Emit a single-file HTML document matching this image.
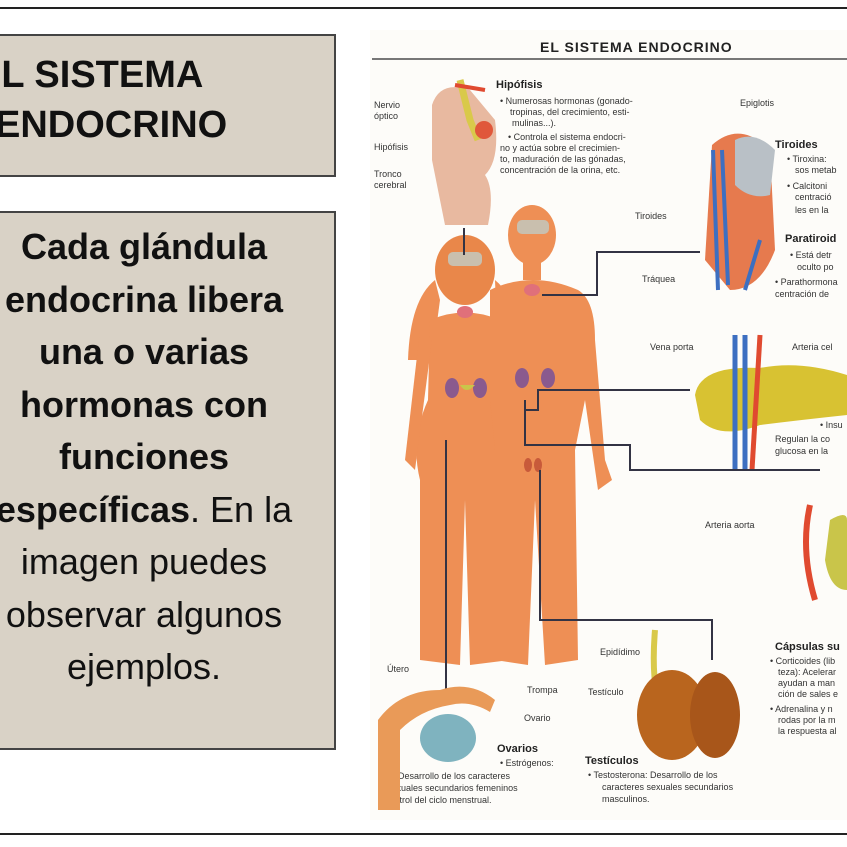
<!DOCTYPE html>
<html><head><meta charset="utf-8">
<style>
html,body{margin:0;padding:0;background:#fff;width:847px;height:847px;overflow:hidden;position:relative;font-family:"Liberation Sans",sans-serif}
.line{position:absolute;left:0;width:847px;height:2px;background:#222}
.box{position:absolute;left:-4px;width:340px;background:#d9d2c6;border:2px solid #444;border-left:none;box-sizing:border-box;overflow:hidden}
.t{position:absolute;white-space:nowrap;font-family:"Liberation Sans",sans-serif;color:#111}
svg text{font-family:"Liberation Sans",sans-serif;fill:#333}
</style></head><body>
<div class="line" style="top:7px"></div>
<div class="line" style="top:833px"></div>
<div class="box" style="top:34px;height:143px">
 <div class="t" style="left:-20px;top:14px;font-size:38px;line-height:50px;font-weight:bold">EL SISTEMA</div>
 <div class="t" style="left:-1px;top:64px;font-size:38px;line-height:50px;font-weight:bold">ENDOCRINO</div>
</div>
<div class="box" style="top:211px;height:539px">
 <div class="t" style="left:-12px;top:8px;width:320px;text-align:center;font-size:36px;line-height:52.5px">
 <b>Cada glándula</b><br><b>endocrina libera</b><br><b>una o varias</b><br><b>hormonas con</b><br><b>funciones</b><br><b>específicas</b>. En la<br>imagen puedes<br>observar algunos<br>ejemplos.</div>
</div>
<svg style="position:absolute;left:0;top:0" width="847" height="847">
 <rect x="370" y="30" width="477" height="790" fill="#fdfcf9"/>
 <text x="540" y="52" font-size="14" font-weight="bold" style="fill:#222;letter-spacing:1px">EL SISTEMA ENDOCRINO</text>
 <line x1="372" y1="59" x2="847" y2="59" stroke="#777" stroke-width="2"/>
 <path d="M432 105 Q440 80 470 90 L495 120 Q500 160 485 175 Q495 190 488 225 L445 225 Q438 190 432 160 Z" fill="#e8b9a0"/>
 <path d="M460 80 L470 120 L478 140" stroke="#d9c94a" stroke-width="7" fill="none"/>
 <circle cx="484" cy="130" r="9" fill="#e0573a"/>
 <path d="M455 85 L485 90" stroke="#e04a30" stroke-width="4"/>
 <g font-size="9">
 <text x="374" y="108">Nervio</text><text x="374" y="119">óptico</text>
 <text x="374" y="150">Hipófisis</text>
 <text x="374" y="177">Tronco</text><text x="374" y="188">cerebral</text>
 <text x="496" y="88" font-weight="bold" font-size="11" style="fill:#222">Hipófisis</text>
 <text x="500" y="104">• Numerosas hormonas (gonado-</text>
 <text x="510" y="115">tropinas, del crecimiento, esti-</text>
 <text x="512" y="126">mulinas...).</text>
 <text x="508" y="140">• Controla el sistema endocri-</text>
 <text x="500" y="151">no y actúa sobre el crecimien-</text>
 <text x="500" y="162">to, maduración de las gónadas,</text>
 <text x="500" y="173">concentración de la orina, etc.</text>
 <text x="740" y="106">Epiglotis</text>
 <text x="775" y="148" font-weight="bold" font-size="11" style="fill:#222">Tiroides</text>
 <text x="787" y="162">• Tiroxina:</text><text x="795" y="173">sos metab</text>
 <text x="787" y="189">• Calcitoni</text><text x="795" y="200">centració</text><text x="795" y="213">les en la</text>
 <text x="635" y="219">Tiroides</text>
 <text x="785" y="242" font-weight="bold" font-size="11" style="fill:#222">Paratiroid</text>
 <text x="790" y="258">• Está detr</text><text x="797" y="270">oculto po</text>
 <text x="775" y="285">• Parathormona</text><text x="775" y="297">centración de</text>
 <text x="642" y="282">Tráquea</text>
 <text x="650" y="350">Vena porta</text>
 <text x="792" y="350">Arteria cel</text>
 <text x="820" y="428">• Insu</text>
 <text x="775" y="442">Regulan la co</text><text x="775" y="454">glucosa en la</text>
 <text x="705" y="528">Arteria aorta</text>
 <text x="775" y="650" font-weight="bold" font-size="11" style="fill:#222">Cápsulas su</text>
 <text x="770" y="664">• Corticoides (lib</text><text x="778" y="675">teza): Acelerar</text>
 <text x="778" y="686">ayudan a man</text><text x="778" y="697">ción de sales e</text>
 <text x="770" y="712">• Adrenalina y n</text><text x="778" y="723">rodas por la m</text><text x="778" y="734">la respuesta al</text>
 <text x="600" y="655">Epidídimo</text>
 <text x="588" y="695">Testículo</text>
 <text x="387" y="672">Útero</text>
 <text x="527" y="693">Trompa</text>
 <text x="524" y="721">Ovario</text>
 <text x="497" y="752" font-weight="bold" font-size="11" style="fill:#222">Ovarios</text>
 <text x="500" y="766">• Estrógenos:</text>
 <text x="398" y="779">Desarrollo de los caracteres</text>
 <text x="387" y="791">sexuales secundarios femeninos</text>
 <text x="378" y="803">y control del ciclo menstrual.</text>
 <text x="585" y="764" font-weight="bold" font-size="11" style="fill:#222">Testículos</text>
 <text x="588" y="778">• Testosterona: Desarrollo de los</text>
 <text x="602" y="790">caracteres sexuales secundarios</text>
 <text x="602" y="802">masculinos.</text>
 </g>
 <path d="M712 145 Q740 120 770 150 L775 250 Q760 290 730 290 L705 260 Z" fill="#e67a4e"/>
 <path d="M735 140 Q755 130 775 150 L770 195 Q750 200 735 185 Z" fill="#b9c0c6"/>
 <path d="M713 150 L718 290 M722 150 L728 285 M760 240 L745 290" stroke="#3d6fc1" stroke-width="4" fill="none"/>
 <path d="M695 395 Q700 365 760 368 Q800 360 847 375 L847 415 Q800 420 760 425 Q720 440 700 420 Z" fill="#d8c232"/>
 <path d="M735 335 L735 470 M745 335 L745 470" stroke="#3d6fc1" stroke-width="5"/>
 <path d="M760 335 L752 470" stroke="#e04a30" stroke-width="5"/>
 <path d="M810 505 Q800 550 815 600" stroke="#e04a30" stroke-width="6" fill="none"/>
 <path d="M830 520 Q847 510 847 520 L847 590 Q830 590 825 560 Z" fill="#c9c54a"/>
 <g fill="#ee8f55">
 <ellipse cx="465" cy="270" rx="30" ry="35" fill="#e9874a"/>
 <path d="M435 280 Q410 300 408 360 L432 360 L440 300 Z"/>
 <path d="M495 280 Q520 300 520 360 L498 360 Z"/>
 <path d="M430 320 Q465 305 500 320 L505 400 Q520 440 510 480 L510 660 L470 665 L465 500 L460 665 L420 660 L420 480 Q410 440 428 400 Z"/>
 <path d="M420 330 L405 460 L415 470 L432 340 Z"/>
 <path d="M505 330 L520 460 L510 470 L500 340 Z"/>
 <ellipse cx="532" cy="235" rx="24" ry="30"/>
 <rect x="523" y="260" width="18" height="20"/>
 <path d="M490 290 Q532 270 578 290 Q595 300 595 340 L605 460 L612 480 L598 490 L585 400 L575 450 L578 660 L545 665 L535 500 L528 665 L495 660 L495 450 L490 400 Z"/>
 </g>
 <g fill="#c9bfae"><rect x="448" y="252" width="34" height="14" rx="5"/><rect x="517" y="220" width="32" height="14" rx="5"/></g>
 <g fill="#e0707a"><ellipse cx="465" cy="312" rx="8" ry="6"/><ellipse cx="532" cy="290" rx="8" ry="6"/></g>
 <g fill="#8a5a8e"><ellipse cx="452" cy="388" rx="7" ry="10"/><ellipse cx="480" cy="388" rx="7" ry="10"/><ellipse cx="522" cy="378" rx="7" ry="10"/><ellipse cx="548" cy="378" rx="7" ry="10"/></g>
 <path d="M460 385 Q466 395 475 385" fill="#c9c54a"/>
 <g fill="#c85a3a"><ellipse cx="528" cy="465" rx="4" ry="7"/><ellipse cx="538" cy="465" rx="4" ry="7"/></g>
 <g stroke="#334" stroke-width="2" fill="none">
 <path d="M464 228 L464 255"/>
 <path d="M700 252 L597 252 L597 295 L542 295"/>
 <path d="M690 390 L538 390 L538 410 L525 410"/>
 <path d="M820 470 L630 470 L630 445 L525 445 L525 400"/>
 <path d="M446 440 L446 690"/>
 <path d="M540 470 L540 620 L712 620 L712 660"/>
 </g>
 <path d="M378 720 Q400 690 440 690 Q470 680 495 700 L490 712 Q470 700 450 705 Q420 710 400 730 L400 810 L378 810 Z" fill="#e99a58"/>
 <ellipse cx="448" cy="738" rx="28" ry="24" fill="#7fb3bf"/>
 <path d="M655 630 Q650 690 665 720" stroke="#d9c94a" stroke-width="6" fill="none"/>
 <ellipse cx="672" cy="715" rx="35" ry="45" fill="#b9651e"/>
 <ellipse cx="715" cy="715" rx="25" ry="43" fill="#a8561a"/>
</svg>
</body></html>
